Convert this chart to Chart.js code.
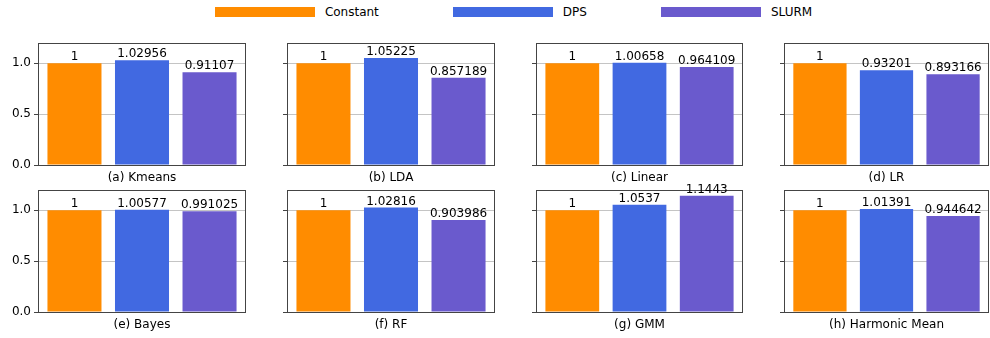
<!DOCTYPE html>
<html>
<head>
<meta charset="utf-8">
<script src="https://cdn.jsdelivr.net/npm/chart.js@4/dist/chart.umd.min.js"></script>
<style>
  html, body { margin: 0; padding: 0; background: #fff; width: 990px; height: 338px; overflow: hidden; position: relative; font-family: "DejaVu Sans", sans-serif; }
  canvas { position: absolute; }
  #legend { position: absolute; top: 4px; left: 38px; width: 951px; display: flex; justify-content: center; gap: 74px; font-size: 12px; color: #000; }
  .item { display: flex; align-items: center; height: 16px; }
  .patch { width: 100px; height: 10px; margin-right: 10px; }
</style>
</head>
<body>
<div id="legend"></div>
<script>
// ---- data ----
const categories = ['(a) Kmeans', '(b) LDA', '(c) Linear', '(d) LR', '(e) Bayes', '(f) RF', '(g) GMM', '(h) Harmonic Mean'];
const seriesNames = ['Constant', 'DPS', 'SLURM'];
const constantVals = [1, 1, 1, 1, 1, 1, 1, 1];
const dpsVals = [1.02956, 1.05225, 1.00658, 0.93201, 1.00577, 1.02816, 1.0537, 1.01391];
const slurmVals = [0.91107, 0.857189, 0.964109, 0.893166, 0.991025, 0.903986, 1.1443, 0.944642];
const yTicks = [0, 0.5, 1.0];

// ---- style / layout ----
const colors = ['#FF8C00', '#4169E1', '#6A5ACD'];
const FONT = '"DejaVu Sans", sans-serif';
const axLefts = [38, 287, 536, 784];
const axWidths = [208, 208, 207, 205];
const axTops = [43, 190];
const axH = 122;
const padTop = 16, yW = 38, xH = 26, padRight = 2;

// legend
const leg = document.getElementById('legend');
seriesNames.forEach((n, i) => {
  const it = document.createElement('div'); it.className = 'item';
  const p = document.createElement('div'); p.className = 'patch'; p.style.background = colors[i];
  const t = document.createElement('span'); t.textContent = n;
  it.appendChild(p); it.appendChild(t); leg.appendChild(it);
});

function fmtG(v) {
  let s = Number(v).toPrecision(6);
  if (s.indexOf('.') >= 0) s = s.replace(/0+$/, '').replace(/\.$/, '');
  return s;
}

const overlayPlugin = {
  id: 'overlay',
  afterDraw(chart) {
    const ctx = chart.ctx;
    const a = chart.chartArea;
    ctx.save();
    // frame
    ctx.strokeStyle = '#444';
    ctx.lineWidth = 1;
    ctx.strokeRect(Math.round(a.left) + 0.5, Math.round(a.top) + 0.5, Math.round(a.right - a.left) - 1, Math.round(a.bottom - a.top));
    // value labels
    ctx.fillStyle = '#000';
    ctx.font = '12px ' + FONT;
    ctx.textAlign = 'center';
    ctx.textBaseline = 'bottom';
    const meta = chart.getDatasetMeta(0);
    meta.data.forEach((bar, i) => {
      const v = chart.data.datasets[0].data[i].y;
      ctx.fillText(fmtG(v), bar.x, bar.y);
    });
    ctx.restore();
  }
};

categories.forEach((cat, k) => {
  const r = Math.floor(k / 4), c = k % 4;
  const cv = document.createElement('canvas');
  const w = yW + axWidths[c] + padRight;
  const h = padTop + axH + xH;
  cv.width = w; cv.height = h;
  cv.style.width = w + 'px'; cv.style.height = h + 'px';
  cv.style.left = (axLefts[c] - yW) + 'px';
  cv.style.top = (axTops[r] - padTop) + 'px';
  document.body.appendChild(cv);

  const vals = [constantVals[k], dpsVals[k], slurmVals[k]];
  new Chart(cv, {
    type: 'bar',
    data: {
      datasets: [{
        data: vals.map((v, i) => ({ x: i, y: v })),
        backgroundColor: colors,
        borderWidth: 0,
        barPercentage: 0.8,
        categoryPercentage: 1.0
      }]
    },
    options: {
      responsive: false,
      animation: false,
      devicePixelRatio: 1,
      layout: { padding: { top: padTop, left: 0, right: padRight, bottom: 0 } },
      plugins: { legend: { display: false }, tooltip: { enabled: false } },
      scales: {
        x: {
          type: 'linear', min: -0.54, max: 2.54, offset: false,
          grid: { display: false },
          border: { display: false },
          ticks: { display: false },
          title: { display: true, text: cat, color: '#000', font: { family: FONT, size: 12 }, padding: { top: 0, bottom: 6 } },
          afterFit(s) { s.height = xH; }
        },
        y: {
          min: 0, max: 1.2, z: 1,
          afterBuildTicks(s) { s.ticks = yTicks.map(v => ({ value: v })); },
          afterFit(s) { s.width = yW; },
          border: { display: false },
          grid: { color: '#c4c4c4', lineWidth: 1, drawTicks: true, tickLength: 4, tickColor: '#444', tickWidth: 1 },
          ticks: {
            padding: 3,
            color: c === 0 ? '#000' : 'rgba(0,0,0,0)',
            font: { family: FONT, size: 12 },
            callback: v => Number(v).toFixed(1)
          }
        }
      }
    },
    plugins: [overlayPlugin]
  });
});
</script>
</body>
</html>
